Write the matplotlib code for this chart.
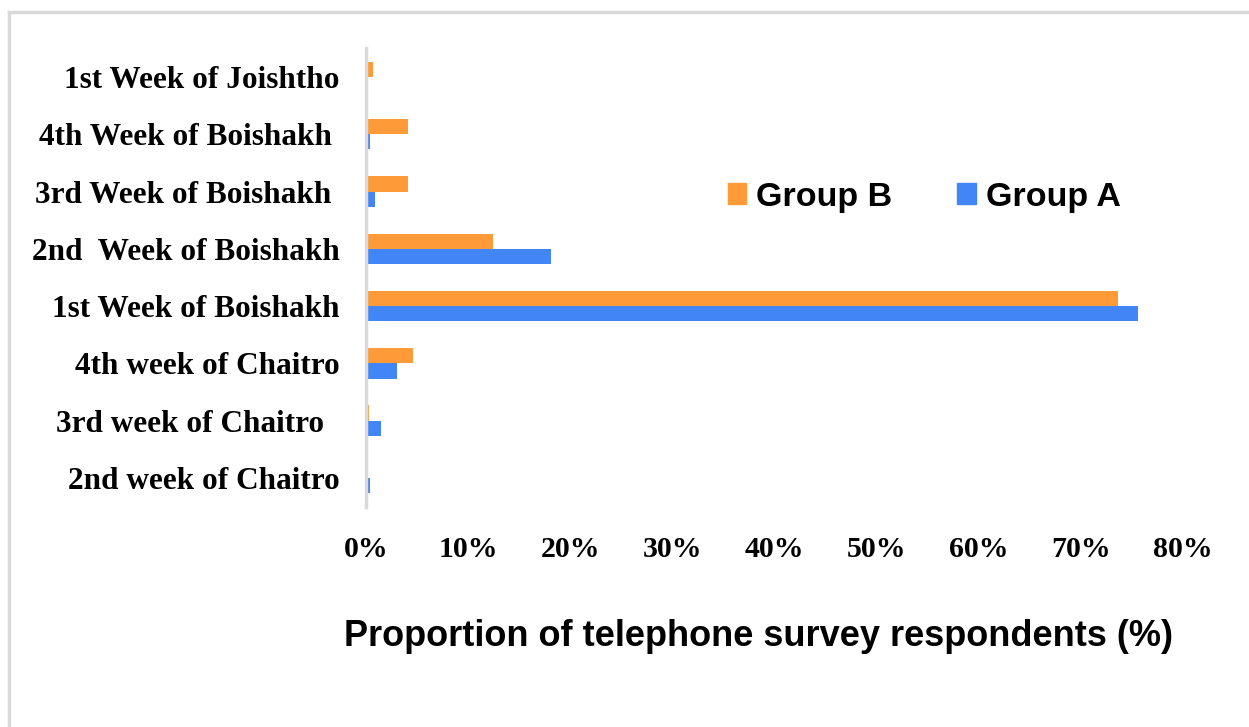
import numpy as np
import matplotlib.pyplot as plt
from matplotlib.patches import Patch
from matplotlib.lines import Line2D

# survey weeks, bottom to top
weeks = ['2nd week of Chaitro', '3rd week of Chaitro  ', '4th week of Chaitro',
         '1st Week of Boishakh', '2nd  Week of Boishakh', '3rd Week of Boishakh ',
         '4th Week of Boishakh ', '1st Week of Joishtho']
group_a = [0.4, 1.5, 3.0, 75.6, 18.1, 0.9, 0.4, 0.0]
group_b = [0.0, 0.3, 4.6, 73.7, 12.4, 4.1, 4.1, 0.7]
xticks = [0, 10, 20, 30, 40, 50, 60, 70, 80]

orange = '#FF9A38'
blue = '#4285F4'

fig = plt.figure(figsize=(12.49, 7.27), dpi=100)
ax = fig.add_axes([0.293, 0.3032, 0.654, 0.6302])

y = np.arange(len(weeks))
h = 0.265
ax.barh(y + h / 2, group_b, height=h, color=orange, label='Group B')
ax.barh(y - h / 2, group_a, height=h, color=blue, label='Group A')

ax.set_xlim(0, 80)
ax.set_ylim(-0.5, len(weeks) - 0.5)
ax.set_xticks(xticks)
ax.set_xticklabels([f'{t}%' for t in xticks])
ax.set_yticks(y)
ax.set_yticklabels(weeks)

for s in ['top', 'right', 'bottom']:
    ax.spines[s].set_visible(False)
ax.spines['left'].set_color('#d9d9d9')
ax.spines['left'].set_linewidth(2.5)
ax.tick_params(length=0)
ax.tick_params(axis='x', pad=21)
ax.tick_params(axis='y', pad=19)
for lab in ax.get_xticklabels():
    lab.set_fontfamily('Liberation Serif')
    lab.set_fontweight('bold')
    lab.set_fontsize(21.5)
for lab in ax.get_yticklabels():
    lab.set_fontfamily('Liberation Serif')
    lab.set_fontweight('bold')
    lab.set_fontsize(22.5)

handles = [Patch(color=orange), Patch(color=blue)]
fig.legend(handles, ['Group B', 'Group A'], loc='center',
           bbox_to_anchor=(0.740, 0.729), ncol=2, frameon=False,
           handlelength=0.55, handleheight=0.55, handletextpad=0.3,
           columnspacing=1.9,
           prop={'family': 'Liberation Sans', 'weight': 'bold', 'size': 24.5})

fig.text(0.607, 0.124, 'Proportion of telephone survey respondents (%)',
         ha='center', va='center', family='Liberation Sans', weight='bold',
         fontsize=26)

# outer frame
fig.add_artist(Line2D([0.0075, 0.0075], [0, 0.983], color='#d9d9d9', lw=2.5,
                      transform=fig.transFigure))
fig.add_artist(Line2D([0.0075, 1.0], [0.983, 0.983], color='#d9d9d9', lw=2.5,
                      transform=fig.transFigure))

fig.savefig('out.png', dpi=100)
